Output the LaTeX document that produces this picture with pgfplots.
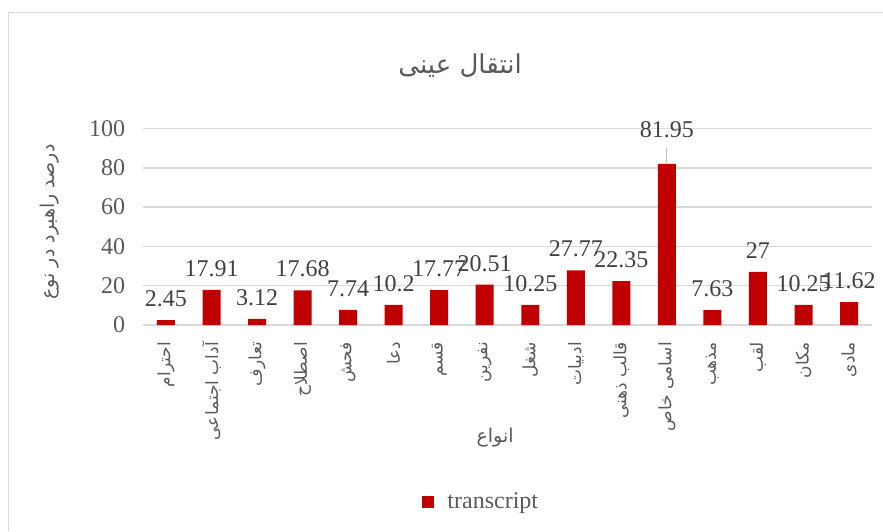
\documentclass[border=0pt]{standalone}
\usepackage{pgfplots}
\pgfplotsset{compat=1.18}
\usepackage{fontspec}
\setmainfont{Liberation Serif}
\newfontfamily\arabicfont[Script=Arabic]{DejaVu Sans}
\TeXXeTstate=1
\definecolor{barred}{HTML}{C00000}
\definecolor{gridgray}{HTML}{D9D9D9}
\definecolor{txtgray}{HTML}{595959}
\definecolor{lblgray}{HTML}{404040}
\definecolor{leadgray}{HTML}{BFBFBF}

\begin{document}
\begin{tikzpicture}
\useasboundingbox (0,0) rectangle (441.5pt,265.5pt);
\draw[gridgray, line width=0.75pt] (4.2pt,0) -- (4.2pt,259.2pt) -- (441.5pt,259.2pt);
\begin{axis}[
  at={(71.6pt,103pt)}, anchor=south west,
  scale only axis, width=364.3pt, height=98.25pt,
  xmin=-0.5, xmax=15.5, ymin=0, ymax=100,
  bar width=9pt, bar shift=0pt,
  axis line style={draw=none},
  ymajorgrids, grid style={gridgray, line width=0.75pt},
  major tick length=0pt,
  ytick={0,20,40,60,80,100},
  /pgf/number format/assume math mode=true,
  yticklabel style={font=\fontsize{12}{14}\selectfont, text=txtgray, xshift=-5.5pt},
  xtick={0,...,15},
  xticklabels={
    {\arabicfont\beginR احترام\endR},
    {\arabicfont\beginR آداب اجتماعی\endR},
    {\arabicfont\beginR تعارف\endR},
    {\arabicfont\beginR اصطلاح\endR},
    {\arabicfont\beginR فحش\endR},
    {\arabicfont\beginR دعا\endR},
    {\arabicfont\beginR قسم\endR},
    {\arabicfont\beginR نفرین\endR},
    {\arabicfont\beginR شغل\endR},
    {\arabicfont\beginR ادبیات\endR},
    {\arabicfont\beginR قالب ذهنی\endR},
    {\arabicfont\beginR اسامی خاص\endR},
    {\arabicfont\beginR مذهب\endR},
    {\arabicfont\beginR لقب\endR},
    {\arabicfont\beginR مکان\endR},
    {\arabicfont\beginR مادی\endR}},
  xticklabel style={rotate=90, anchor=east, font=\arabicfont\fontsize{8.5}{10}\selectfont, text=txtgray},
  xticklabel shift=5pt,
  title={\arabicfont\beginR انتقال عینی\endR},
  title style={at={(axis description cs:0.435,1.257)}, anchor=center, font=\arabicfont\fontsize{13}{15}\selectfont, text=txtgray},
  xlabel={\arabicfont\beginR انواع\endR},
  xlabel style={at={(axis description cs:0.483,-0.575)}, anchor=center, font=\arabicfont\fontsize{9.5}{11}\selectfont, text=txtgray},
  ylabel={\arabicfont\beginR درصد راهبرد در نوع\endR},
  ylabel style={at={(axis description cs:-0.128,0.524)}, anchor=center, font=\arabicfont\fontsize{9.5}{11}\selectfont, text=txtgray},
  legend style={at={(axis description cs:0.4654,-0.90)}, anchor=center, draw=none, fill=none, font=\fontsize{12}{14}\selectfont, text=txtgray,
    /tikz/every odd column/.append style={column sep=4.5pt}},
  legend image code/.code={\fill[barred] (0pt,-3pt) rectangle (6pt,3pt);},
]
\addplot[ybar, fill=barred, draw=none] coordinates {
  (0,2.45) (1,17.91) (2,3.12) (3,17.68) (4,7.74) (5,10.2) (6,17.77) (7,20.51)
  (8,10.25) (9,27.77) (10,22.35) (11,81.95) (12,7.63) (13,27) (14,10.25) (15,11.62)
};
\addlegendentry{transcript}
\addplot[draw=none, mark=none, forget plot, nodes near coords, point meta=explicit symbolic,
  every node near coord/.append style={anchor=center, yshift=10.75pt, font=\fontsize{12}{14}\selectfont, text=lblgray}]
  coordinates {
  (0,2.45) [2.45] (1,17.91) [17.91] (2,3.12) [3.12] (3,17.68) [17.68] (4,7.74) [7.74]
  (5,10.2) [10.2] (6,17.77) [17.77] (7,20.51) [20.51] (8,10.25) [10.25] (9,27.77) [27.77]
  (10,22.35) [22.35] (12,7.63) [7.63] (13,27) [27] (14,10.25) [10.25] (15,11.62) [11.62]
};
\addplot[draw=none, mark=none, forget plot, nodes near coords, point meta=explicit symbolic,
  every node near coord/.append style={anchor=center, yshift=17pt, font=\fontsize{12}{14}\selectfont, text=lblgray}]
  coordinates {(11,81.95) [81.95]};
\addplot[leadgray, line width=0.6pt, mark=none, forget plot] coordinates {(11,82.2) (11,90.3)};
\end{axis}
\end{tikzpicture}
\end{document}
